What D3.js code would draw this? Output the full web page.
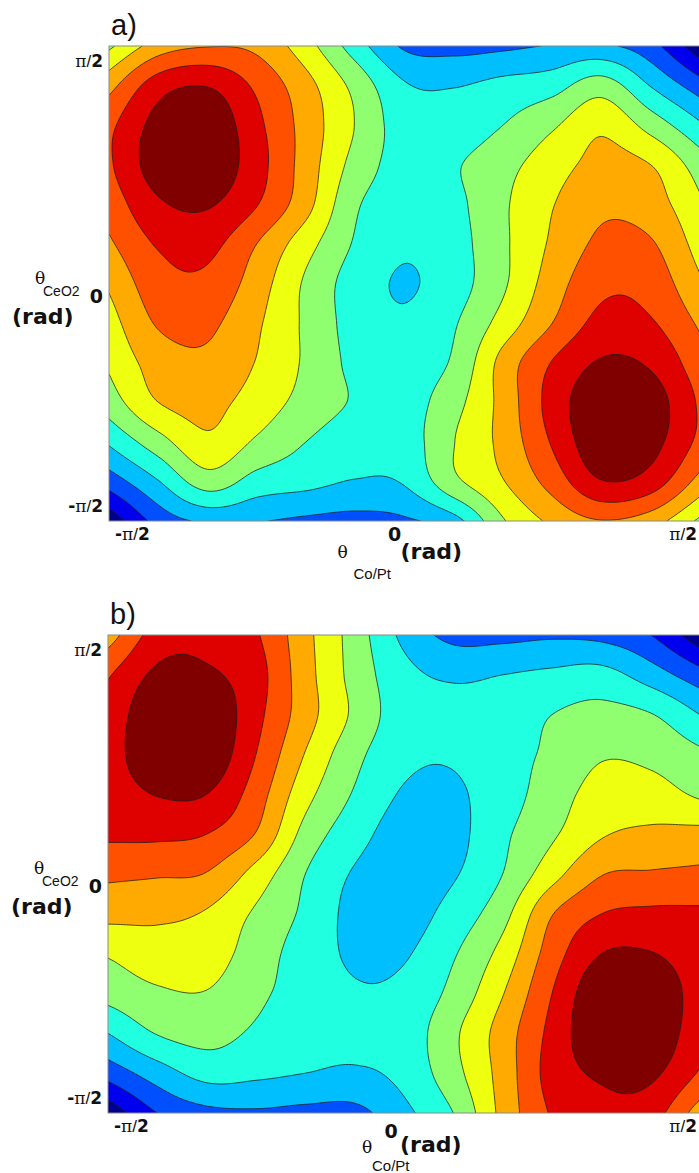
<!DOCTYPE html>
<html>
<head>
<meta charset="utf-8">
<script src="https://cdn.jsdelivr.net/npm/d3@7"></script>
<style>
  html, body { margin: 0; padding: 0; background: #ffffff; }
  svg { display: block; }
</style>
</head>
<body>
<svg id="chart" width="699" height="1173"></svg>
<script>
// Contour levels and the colour of each band (lowest band first)
const levels = [1, 2, 3, 4, 5, 6, 7, 8, 9, 10];
const bandColors = ["#00008f", "#0000ef", "#0050ff", "#00bfff", "#20ffdf",
                    "#8fff70", "#efff10", "#ffaa00", "#ff5000", "#df0000", "#800000"];

// Angle axis: both axes run from -pi/2 to pi/2
const angleDomain = [-Math.PI / 2, Math.PI / 2];
const tickValues = [-Math.PI / 2, 0, Math.PI / 2];
const tickLabels = ["-π/2", "0", "π/2"];
const panelLabels = ["a)", "b)"];

// Energy maps sampled on a 13 x 13 grid, rows from theta_CeO2 = +pi/2 (top)
// to -pi/2 (bottom), columns from theta_Co/Pt = -pi/2 to +pi/2.
const energyA = [
  [5.8, 7.45, 7.95, 7.75, 6.4, 4.5, 2.85, 2.65, 2.8, 3.05, 3.15, 2.35, 0.3],
  [7.65, 9.55, 9.95, 8.8, 7.35, 5.7, 4.1, 3.95, 4.3, 4.6, 5.5, 3.95, 2.45],
  [8.75, 10.35, 10.75, 9.25, 7.6, 5.97, 4.5, 4.4, 5.0, 5.85, 6.8, 5.6, 4.15],
  [8.85, 10.5, 10.75, 9.4, 7.55, 5.65, 4.6, 4.9, 5.65, 6.55, 7.3, 7.0, 5.5],
  [8.4, 9.85, 10.1, 9.05, 7.35, 5.15, 4.5, 4.75, 5.85, 6.95, 7.8, 7.47, 6.15],
  [7.85, 9.1, 9.3, 8.0, 6.4, 4.9, 4.15, 4.6, 5.82, 7.15, 8.2, 8.1, 6.6],
  [7.15, 8.6, 8.75, 7.5, 5.85, 4.55, 3.92, 4.55, 5.85, 7.5, 8.75, 8.6, 7.15],
  [6.6, 8.1, 8.2, 7.15, 5.82, 4.6, 4.15, 4.9, 6.4, 8.0, 9.3, 9.1, 7.85],
  [6.15, 7.47, 7.8, 6.95, 5.85, 4.75, 4.5, 5.15, 7.35, 9.05, 10.1, 9.85, 8.4],
  [5.5, 7.0, 7.3, 6.55, 5.65, 4.9, 4.6, 5.65, 7.35, 9.4, 10.75, 10.5, 8.85],
  [4.15, 5.6, 6.8, 5.85, 5.0, 4.4, 4.5, 5.97, 7.3, 9.1, 10.75, 10.35, 8.75],
  [2.45, 3.95, 5.5, 4.6, 4.3, 3.95, 4.1, 5.75, 6.95, 8.4, 9.95, 9.55, 7.65],
  [0.3, 2.35, 3.15, 3.05, 2.8, 2.65, 2.85, 3.6, 5.9, 7.2, 7.95, 7.45, 5.8]
];

const energyB = [
  [7.5, 9.45, 9.7, 9.1, 7.3, 5.55, 3.75, 2.7, 2.7, 2.85, 2.7, 2.0, 0.3],
  [8.9, 10.2, 10.15, 9.4, 7.4, 5.65, 4.3, 3.85, 4.0, 4.2, 4.35, 3.5, 2.4],
  [9.3, 10.8, 10.85, 9.3, 7.45, 5.8, 4.45, 4.3, 4.4, 5.0, 5.3, 5.05, 4.0],
  [9.4, 10.9, 10.8, 9.0, 6.95, 5.3, 4.25, 4.1, 4.6, 5.2, 5.9, 5.75, 5.2],
  [9.35, 10.05, 10.0, 8.5, 6.35, 4.9, 3.9, 3.85, 4.55, 5.5, 6.4, 6.4, 5.85],
  [9.15, 9.2, 9.0, 7.95, 5.65, 4.4, 3.55, 3.7, 4.8, 5.85, 6.9, 7.2, 7.3],
  [8.2, 8.1, 7.95, 6.62, 5.0, 3.9, 3.4, 3.9, 5.0, 6.62, 7.95, 8.1, 8.2],
  [7.3, 7.2, 6.9, 5.85, 4.8, 3.7, 3.55, 4.4, 5.65, 7.95, 9.0, 9.2, 9.15],
  [6.1, 6.55, 6.5, 5.5, 4.55, 3.85, 3.9, 4.9, 6.35, 8.5, 10.0, 10.05, 9.35],
  [5.35, 5.85, 5.95, 5.2, 4.6, 4.1, 4.25, 5.3, 6.95, 9.0, 10.8, 10.9, 9.4],
  [4.0, 5.05, 5.35, 4.85, 4.4, 4.3, 4.45, 5.8, 7.45, 9.3, 10.85, 10.8, 9.3],
  [2.4, 3.5, 4.35, 4.2, 4.0, 3.85, 4.3, 5.65, 7.4, 9.4, 10.15, 10.2, 8.9],
  [0.3, 2.0, 2.7, 2.85, 2.7, 2.7, 3.75, 5.0, 7.3, 9.1, 9.7, 9.45, 7.5]
];

const svg = d3.select("#chart");
const sansFont = "'Liberation Sans', Arial, sans-serif";
const boldFont = "'DejaVu Sans', 'Liberation Sans', sans-serif";
const serifFont = "'DejaVu Serif', 'Liberation Serif', serif";

// Smooth Catmull-Rom resampling of the coarse grid, so contour lines are not faceted
function catmullRom(p0, p1, p2, p3, t) {
  return 0.5 * (2 * p1 + (-p0 + p2) * t + (2 * p0 - 5 * p1 + 4 * p2 - p3) * t * t +
    (-p0 + 3 * p1 - 3 * p2 + p3) * t * t * t);
}
function sample1d(arr, t) {
  const n = arr.length;
  const get = k => k < 0 ? 2 * arr[0] - arr[1] : k >= n ? 2 * arr[n - 1] - arr[n - 2] : arr[k];
  const i = Math.min(Math.floor(t), n - 2);
  const u = t - i;
  return catmullRom(get(i - 1), get(i), get(i + 1), get(i + 2), u);
}
function resample(grid, factor) {
  const rows = grid.length, cols = grid[0].length;
  const W = (cols - 1) * factor + 1, H = (rows - 1) * factor + 1;
  const wide = grid.map(r => d3.range(W).map(p => sample1d(r, p / factor)));
  const values = new Float64Array(W * H);
  for (let c = 0; c < W; c++) {
    const col = wide.map(r => r[c]);
    for (let q = 0; q < H; q++) values[q * W + c] = sample1d(col, q / factor);
  }
  return { values, W, H };
}

// Tick label of the form "π/2" with a serif pi and a bold digit
function piLabel(sel, text) {
  if (text === "0") {
    sel.append("tspan").attr("font-family", boldFont).attr("font-weight", "bold")
      .attr("font-size", 19).text("0");
    return;
  }
  if (text.startsWith("-")) {
    sel.append("tspan").attr("font-family", boldFont).attr("font-weight", "bold").text("-");
  }
  sel.append("tspan").attr("font-family", serifFont).text("π");
  sel.append("tspan").attr("font-family", sansFont).text("/");
  sel.append("tspan").attr("font-family", boldFont).attr("font-weight", "bold").text("2");
}

function drawPanel(grid, box, label, id, lab) {
  const { x0, y0, x1, y1 } = box;
  const factor = 16;
  const field = resample(grid, factor);

  // resampled grid index -> pixels
  const gx = d3.scaleLinear().domain([0.5, field.W - 0.5]).range([x0, x1]);
  const gy = d3.scaleLinear().domain([0.5, field.H - 0.5]).range([y0, y1]);
  // angle axes
  const ax = d3.scaleLinear().domain(angleDomain).range([x0, x1]);
  const ay = d3.scaleLinear().domain(angleDomain).range([y1, y0]);

  const projection = d3.geoTransform({
    point(x, y) { this.stream.point(gx(x), gy(y)); }
  });
  const path = d3.geoPath(projection);

  const contours = d3.contours().size([field.W, field.H]).thresholds(levels)(field.values);

  svg.append("clipPath").attr("id", "clip-" + id)
    .append("rect").attr("x", x0).attr("y", y0).attr("width", x1 - x0).attr("height", y1 - y0);

  const g = svg.append("g").attr("clip-path", `url(#clip-${id})`);
  g.append("rect").attr("x", x0).attr("y", y0).attr("width", x1 - x0).attr("height", y1 - y0)
    .attr("fill", bandColors[0]);
  g.selectAll("path.band").data(contours).join("path")
    .attr("class", "band")
    .attr("d", path)
    .attr("fill", (d, i) => bandColors[i + 1]);
  g.selectAll("path.iso").data(contours).join("path")
    .attr("class", "iso")
    .attr("d", path)
    .attr("fill", "none")
    .attr("stroke", "#1e1e1e")
    .attr("stroke-width", 0.75)
    .attr("stroke-linejoin", "round");

  // frame
  svg.append("rect").attr("x", x0).attr("y", y0).attr("width", x1 - x0).attr("height", y1 - y0)
    .attr("fill", "none").attr("stroke", "#8a8a8a").attr("stroke-width", 1);

  // panel letter
  svg.append("text").attr("x", x0 + 2).attr("y", y0 - 11)
    .attr("font-family", sansFont).attr("font-size", 29).attr("fill", "#111").text(label);

  // y tick labels
  const yOffsets = [-9, 19, 21];
  tickValues.forEach((v, i) => {
    const t = svg.append("text").attr("x", x0 - 6).attr("y", ay(v) + yOffsets[i])
      .attr("text-anchor", "end").attr("font-size", 17).attr("fill", "#111");
    piLabel(t, tickLabels[i]);
  });

  // x tick labels
  const xText = svg.append("text").attr("x", ax(tickValues[0]) + 6).attr("y", y1 + 19)
    .attr("font-size", 17).attr("fill", "#111");
  piLabel(xText, tickLabels[0]);
  const zText = svg.append("text").attr("x", ax(0) + lab.zeroDx).attr("y", y1 + lab.zeroDy)
    .attr("text-anchor", "middle").attr("fill", "#111");
  piLabel(zText, tickLabels[1]);
  const pText = svg.append("text").attr("x", ax(tickValues[2]) - 3).attr("y", y1 + 19)
    .attr("text-anchor", "end").attr("font-size", 17).attr("fill", "#111");
  piLabel(pText, tickLabels[2]);

  // y axis title: theta_CeO2 (rad)
  const ym = ay(0);
  svg.append("text").attr("x", x0 - 74).attr("y", ym)
    .attr("font-family", serifFont).attr("font-size", 17).attr("fill", "#111").text("θ");
  svg.append("text").attr("x", x0 - 66).attr("y", ym + 12)
    .attr("font-family", sansFont).attr("font-size", 14).attr("fill", "#111").text("CeO2");
  svg.append("text").attr("x", x0 - 97).attr("y", ym + 40)
    .attr("font-family", boldFont).attr("font-weight", "bold").attr("font-size", 22)
    .attr("fill", "#111").text("(rad)");

  // x axis title: theta_Co/Pt (rad)
  const xm = ax(0);
  svg.append("text").attr("x", xm + lab.thetaDx).attr("y", y1 + lab.thetaDy)
    .attr("font-family", serifFont).attr("font-size", 17).attr("fill", "#111").text("θ");
  svg.append("text").attr("x", xm + lab.subDx).attr("y", y1 + 58)
    .attr("font-family", sansFont).attr("font-size", 15).attr("fill", "#111").text("Co/Pt");
  svg.append("text").attr("x", xm - 4).attr("y", y1 + lab.radDy)
    .attr("font-family", boldFont).attr("font-weight", "bold").attr("font-size", 22)
    .attr("fill", "#111").text("(rad)");
}

drawPanel(energyA, { x0: 109, y0: 46, x1: 700, y1: 521 }, panelLabels[0], "a",
  { zeroDx: -10, zeroDy: 20, thetaDx: -67, thetaDy: 37, subDx: -51, radDy: 38 });
drawPanel(energyB, { x0: 108, y0: 635, x1: 700, y1: 1113 }, panelLabels[1], "b",
  { zeroDx: -13, zeroDy: 25, thetaDx: -42, thetaDy: 40, subDx: -32, radDy: 39 });
</script>
</body>
</html>
